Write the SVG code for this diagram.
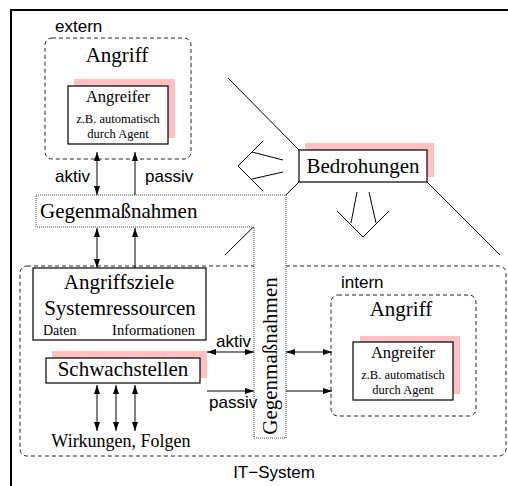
<svg xmlns="http://www.w3.org/2000/svg" width="508" height="486" viewBox="0 0 508 486">
<defs>
<marker id="ah" markerUnits="userSpaceOnUse" markerWidth="9" markerHeight="6" refX="9" refY="3" orient="auto-start-reverse">
<path d="M0,0 L9,3 L0,6 z" fill="#000"/>
</marker>
<style>
.serif{font-family:"Liberation Serif","Times New Roman",serif;fill:#000}
.sans{font-family:"Liberation Sans",Arial,sans-serif;fill:#000}
.dash{fill:none;stroke:#222;stroke-width:1;stroke-dasharray:4 3}
.dot{fill:#fff;stroke:#444;stroke-width:1;stroke-dasharray:1 1}
.box{fill:#fff;stroke:#000;stroke-width:1.2}
.pink{fill:#ffc0c0;stroke:none}
.ln{fill:none;stroke:#000;stroke-width:1}
.ar{fill:none;stroke:#000;stroke-width:1;marker-end:url(#ah)}
.ar2{fill:none;stroke:#000;stroke-width:1;marker-start:url(#ah);marker-end:url(#ah)}
.small{font-size:12.5px}
</style>
</defs>
<rect width="508" height="486" fill="#fff"/>
<path d="M11,486 V10 H508" fill="none" stroke="#000" stroke-width="2"/>

<g id="it-system">
<rect class="dash" x="20" y="266" width="486" height="190" rx="7"/>
<text class="sans" x="274" y="478" font-size="17" text-anchor="middle">IT−System</text>
</g>

<g id="threat-lines">
<path class="ln" d="M228,78 L299,150"/>
<path class="ln" d="M299,182 L225,255"/>
<path class="ln" d="M427,182 L500,255"/>
<path class="ln" d="M263,141 L238,166 L263,191 M252,152 L283,160 M252,179 L283,172"/>
<path class="ln" d="M337,211 L363,237 L389,211 M357,192 L351,223 M369,192 L376,223"/>
</g>

<g id="gegenmassnahmen">
<path class="dot" d="M36,195 H286 V438 H254 V227 H36 Z"/>
<text class="serif" x="40" y="218" font-size="21">Gegenmaßnahmen</text>
<text class="serif" font-size="21" text-anchor="middle" transform="translate(277,356) rotate(-90)">Gegenmaßnahmen</text>
</g>

<g id="angriff-extern">
<text class="sans" x="55" y="32" font-size="17">extern</text>
<rect class="dash" x="45" y="38" width="146" height="121" rx="7"/>
<text class="serif" x="117" y="62" font-size="21" text-anchor="middle">Angriff</text>
<rect class="pink" x="74" y="79" width="101" height="59"/>
<rect class="box" x="68" y="86" width="100" height="58"/>
<text class="serif" x="118" y="102" font-size="16.5" text-anchor="middle">Angreifer</text>
<text class="serif small" x="118" y="123" text-anchor="middle">z.B. automatisch</text>
<text class="serif small" x="118" y="137.5" text-anchor="middle">durch Agent</text>
</g>

<g id="bedrohungen">
<rect class="pink" x="305" y="143" width="129" height="34"/>
<rect class="box" x="299" y="150" width="128" height="32"/>
<text class="serif" x="363" y="173" font-size="21" text-anchor="middle">Bedrohungen</text>
</g>

<g id="angriffsziele">
<rect class="box" x="33" y="268" width="173" height="72"/>
<text class="serif" x="119" y="289" font-size="21" text-anchor="middle">Angriffsziele</text>
<text class="serif" x="120" y="315" font-size="21" text-anchor="middle">Systemressourcen</text>
<text class="serif" x="43" y="335" font-size="14">Daten</text>
<text class="serif" x="195" y="335" font-size="14.5" text-anchor="end">Informationen</text>
</g>

<g id="schwachstellen">
<rect class="pink" x="52" y="351" width="155" height="27"/>
<rect class="box" x="46" y="358" width="154" height="25"/>
<text class="serif" x="123" y="376" font-size="21" text-anchor="middle">Schwachstellen</text>
</g>

<g id="wirkungen">
<text class="serif" x="121" y="447" font-size="18" text-anchor="middle">Wirkungen, Folgen</text>
</g>

<g id="angriff-intern">
<text class="sans" x="341" y="288" font-size="17">intern</text>
<rect class="dash" x="331" y="295" width="145" height="121" rx="7"/>
<text class="serif" x="401" y="316" font-size="21" text-anchor="middle">Angriff</text>
<rect class="pink" x="360" y="336" width="100" height="58"/>
<rect class="box" x="353" y="342" width="100" height="58"/>
<text class="serif" x="403" y="358" font-size="16.5" text-anchor="middle">Angreifer</text>
<text class="serif small" x="403" y="379" text-anchor="middle">z.B. automatisch</text>
<text class="serif small" x="403" y="393.5" text-anchor="middle">durch Agent</text>
</g>

<g id="connectors">
<path class="ar2" d="M97,152 V195"/>
<path class="ar" d="M135,195 V152"/>
<text class="sans" x="55" y="182" font-size="17">aktiv</text>
<text class="sans" x="145" y="182" font-size="17">passiv</text>
<path class="ar2" d="M97,228 V268"/>
<path class="ar" d="M135,268 V228"/>
<path class="ar2" d="M97,385 V431"/>
<path class="ar2" d="M116,385 V431"/>
<path class="ar2" d="M135,385 V431"/>
<path class="ar2" d="M207,352 H254"/>
<path class="ar2" d="M286,352 H332"/>
<path class="ar" d="M207,391 H254"/>
<path class="ar" d="M286,391 H332"/>
<text class="sans" x="216" y="347" font-size="17">aktiv</text>
<text class="sans" x="209" y="408" font-size="17">passiv</text>
</g>
</svg>
